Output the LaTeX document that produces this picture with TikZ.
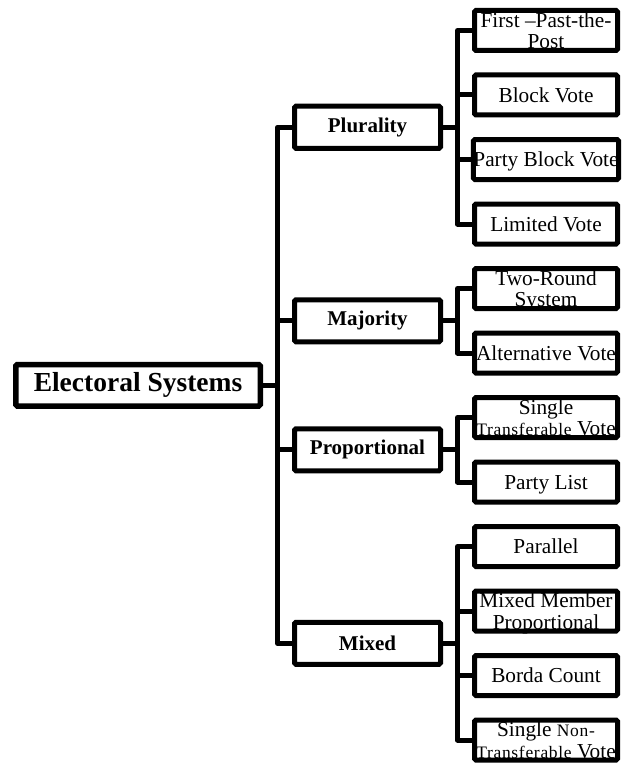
\documentclass[tikz,border=0pt]{standalone}
\usepackage{fontspec}
\setmainfont{Liberation Serif}
\usepackage{tikz}
\usetikzlibrary{positioning,calc}
\tikzset{
  leaf/.style={draw=black,line width=5pt,rounded corners=1.5pt,align=center,
    minimum width=143pt,minimum height=40pt,inner sep=0pt,text depth=0pt,
    font=\fontsize{21.3}{21.5}\selectfont},
  branch/.style={draw=black,line width=5pt,rounded corners=1.5pt,align=center,
    minimum width=146pt,minimum height=42pt,inner sep=0pt,
    font=\fontsize{21}{21}\selectfont\bfseries},
  rootbox/.style={draw=black,line width=5.5pt,rounded corners=1.5pt,align=center,
    minimum width=244.5pt,minimum height=41.5pt,inner sep=0pt,
    font=\fontsize{27.5}{28}\selectfont\bfseries},
  link/.style={draw=black,line width=5pt,line join=round}
}
\newcommand{\smalltxt}[1]{{\fontsize{17.5}{17.5}\selectfont\addfontfeature{LetterSpace=4}#1}}

\begin{document}
\begin{tikzpicture}[node distance=19.5pt]
        \useasboundingbox (0,0) rectangle (621pt,-765pt);
        \node[leaf,anchor=north west] (fptp) at (472pt,-8pt) {First --Past-the-\\Post};
        \node[leaf,below=of fptp] (bv) {Block Vote};
        \node[leaf,below=of bv] (pbv) {Party Block Vote};
        \node[leaf,below=of pbv] (lv) {Limited Vote};
        \node[leaf,below=of lv] (trs) {Two-Round\\System};
        \node[leaf,below=of trs] (av) {Alternative Vote};
        \node[leaf,below=of av] (stv) {Single\\\smalltxt{Transferable} Vote};
        \node[leaf,below=of stv] (pl) {Party List};
        \node[leaf,below=of pl] (par) {Parallel};
        \node[leaf,below=of par] (mmp) {Mixed Member\\Proportional};
        \node[leaf,below=of mmp] (bc) {Borda Count};
        \node[leaf,below=of bc] (sntv) {Single \smalltxt{Non-}\\\smalltxt{Transferable} Vote};
        \coordinate (plm) at ($(fptp.west)!0.5!(lv.west)$);
        \coordinate (mjm) at ($(trs.west)!0.5!(av.west)$);
        \coordinate (prm) at ($(stv.west)!0.5!(pl.west)$);
        \coordinate (mxm) at ($(par.west)!0.5!(sntv.west)$);
        \node[branch,left=29pt of plm] (plur) {Plurality};
        \node[branch,left=29pt of mjm] (maj) {Majority};
        \node[branch,left=29pt of prm] (prop) {Proportional};
        \node[branch,left=29pt of mxm] (mix) {Mixed};
        \coordinate (esm) at ($(plur.west)!0.5!(mix.west)$);
        \node[rootbox,left=29pt of esm] (es) {Electoral Systems};
        \draw[link] (es.east) -- ++(14.5pt,0) |- (plur.west)
                    (es.east) -- ++(14.5pt,0) |- (maj.west)
                    (es.east) -- ++(14.5pt,0) |- (prop.west)
                    (es.east) -- ++(14.5pt,0) |- (mix.west);
        \draw[link] (plur.east) -- ++(14.5pt,0) |- (fptp.west)
                    (plur.east) -- ++(14.5pt,0) |- (bv.west)
                    (plur.east) -- ++(14.5pt,0) |- (pbv.west)
                    (plur.east) -- ++(14.5pt,0) |- (lv.west);
        \draw[link] (maj.east) -- ++(14.5pt,0) |- (trs.west)
                    (maj.east) -- ++(14.5pt,0) |- (av.west);
        \draw[link] (prop.east) -- ++(14.5pt,0) |- (stv.west)
                    (prop.east) -- ++(14.5pt,0) |- (pl.west);
        \draw[link] (mix.east) -- ++(14.5pt,0) |- (par.west)
                    (mix.east) -- ++(14.5pt,0) |- (mmp.west)
                    (mix.east) -- ++(14.5pt,0) |- (bc.west)
                    (mix.east) -- ++(14.5pt,0) |- (sntv.west);
      \end{tikzpicture}
\end{document}
